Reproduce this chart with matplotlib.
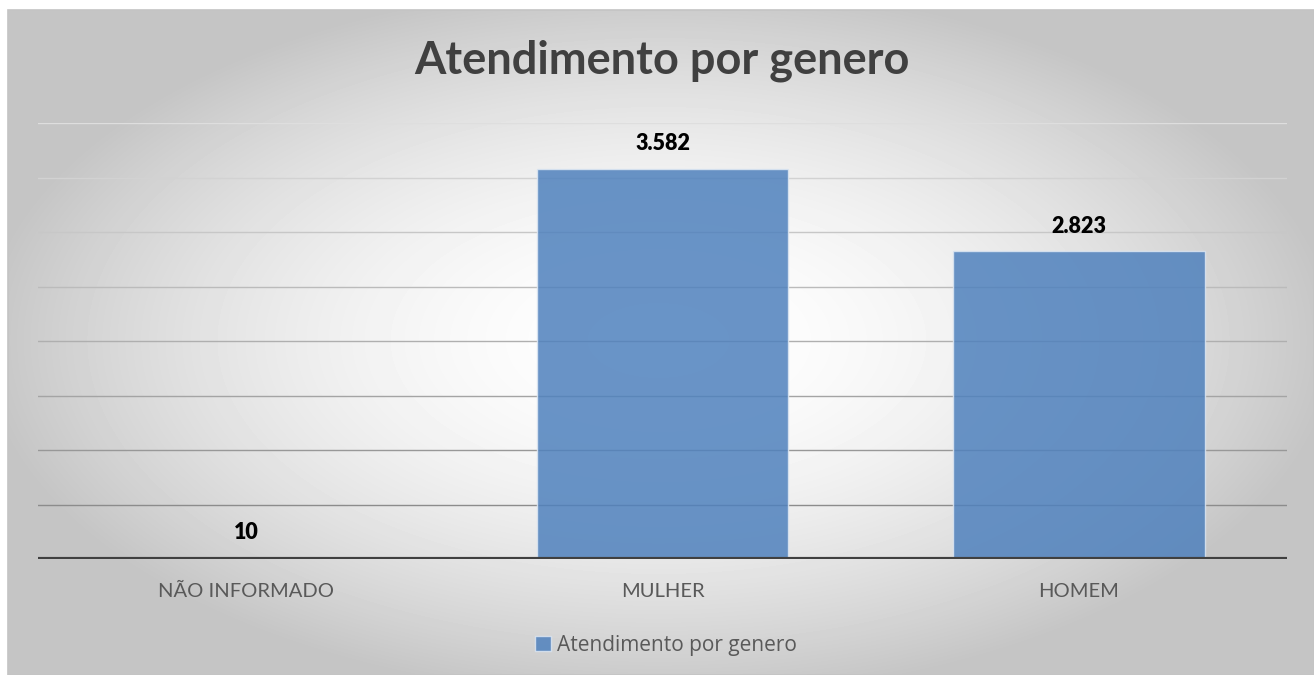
import numpy as np
import matplotlib.pyplot as plt
from matplotlib.patches import Rectangle

categories = ["NÃO INFORMADO", "MULHER", "HOMEM"]
values = [10, 3582, 2823]
value_labels = ["10", "3.582", "2.823"]
series_name = "Atendimento por genero"
title = "Atendimento por genero"
grid_values = [500, 1000, 1500, 2000, 2500, 3000, 3500, 4000]

plt.rcParams['font.family'] = ['Lato', 'DejaVu Sans']

W, H = 1314, 675
fig = plt.figure(figsize=(W / 100, H / 100), dpi=100)
fig.patch.set_facecolor('white')

# radial gradient background of the chart area
bg = fig.add_axes([8 / W, 0, 1 - 8 / W, 1 - 10 / H])
yy, xx = np.mgrid[0:H - 10, 0:W - 8]
r = np.sqrt(((xx - 650) / 680.0) ** 2 + ((yy - 330) / 360.0) ** 2)
shade = 1.0 - 0.23 * np.clip(r, 0, 1) ** 1.8
bg.imshow(shade, cmap='gray', vmin=0, vmax=1, aspect='auto',
          interpolation='bilinear')
bg.set_axis_off()
fig.add_artist(Rectangle((8 / W, 0), 1 - 8 / W, 1 - 10 / H, transform=fig.transFigure,
                         fill=False, edgecolor='#c4c4c4', lw=1.2))

ax = fig.add_axes([38 / W, 1 - 559 / H, (1287 - 38) / W, (559 - 123) / H])
ax.set_facecolor('none')
ax.set_xlim(-0.5, 2.5)
ax.set_ylim(0, 4000)

# gridlines get darker toward the bottom
for i, gv in enumerate(grid_values):
    g = 0.55 + 0.32 * i / (len(grid_values) - 1)
    ax.axhline(gv, color=(g, g, g), lw=1.0, zorder=1)

x = np.arange(len(categories))
ax.bar(x, values, width=0.605, color='#4f81bd', alpha=0.85,
       edgecolor='#dce6f2', linewidth=1.0, zorder=2, label=series_name)

for xi, v, lab in zip(x, values, value_labels):
    ax.annotate(lab, (xi, v), xytext=(0, 18), textcoords='offset points',
                ha='center', va='center', fontsize=15.5, fontweight='heavy',
                color='black')

ax.axhline(0, color='#404040', lw=3.0, zorder=3)

for s in ax.spines.values():
    s.set_visible(False)
ax.set_yticks([])
ax.set_xticks(x)
ax.set_xticklabels(categories, fontsize=14.5, color='#595959')
ax.tick_params(axis='x', length=0, pad=17)

fig.text(662 / W, 1 - 61 / H, title, ha='center', va='center',
         fontsize=32.5, fontweight='bold', color='#404040')

leg = fig.legend(loc='center', bbox_to_anchor=(666 / W, 1 - 645 / H),
                 frameon=False, handlelength=0.75, handleheight=0.75,
                 handletextpad=0.3,
                 prop={'family': ['Open Sans', 'DejaVu Sans'], 'size': 15})
for t in leg.get_texts():
    t.set_color('#595959')

fig.savefig('out.png', dpi=100)
